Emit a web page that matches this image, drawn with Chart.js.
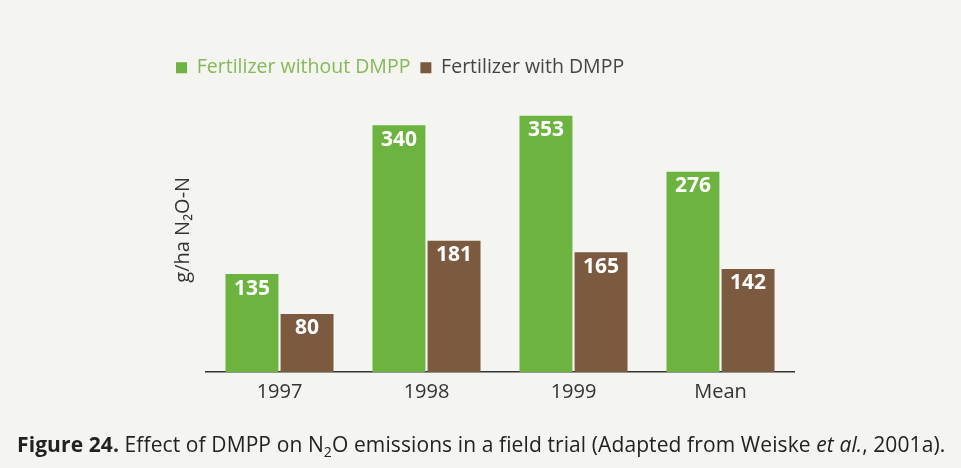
<!DOCTYPE html>
<html>
<head>
<meta charset="utf-8">
<script src="https://cdn.jsdelivr.net/npm/chart.js@4/dist/chart.umd.min.js"></script>
<style>
  html, body { margin: 0; padding: 0; background: #f4f4f1; }
  #wrap { position: relative; width: 961px; height: 468px; }
  #caption {
    position: absolute; left: 17px; top: 430px;
    font-family: "Open Sans", sans-serif; font-size: 21px; color: #222;
    white-space: nowrap; letter-spacing: 0.1px;
  }
  #caption sub { font-size: 14px; }
</style>
</head>
<body>
<div id="wrap">
  <canvas id="chart" width="961" height="468"></canvas>
  <div id="caption"><b>Figure 24.</b> Effect of DMPP on N<sub>2</sub>O emissions in a field trial (Adapted from Weiske <i>et al.</i>, 2001a).</div>
</div>
<script>
const categories = ['1997', '1998', '1999', 'Mean'];
const withoutDmpp = [135, 340, 353, 276];
const withDmpp = [80, 181, 165, 142];
const seriesNames = ['Fertilizer without DMPP', 'Fertilizer with DMPP'];

const green = '#6cb33f';
const brown = '#7b5a3f';

// white numbers inside the top of each bar
const barLabels = {
  id: 'barLabels',
  afterDatasetsDraw(chart) {
    const ctx = chart.ctx;
    ctx.save();
    ctx.fillStyle = '#ffffff';
    ctx.font = 'bold 21px "Open Sans", sans-serif';
    ctx.textAlign = 'center';
    ctx.textBaseline = 'top';
    chart.data.datasets.forEach((ds, i) => {
      chart.getDatasetMeta(i).data.forEach((bar, j) => {
        ctx.fillText(ds.data[j], bar.x, bar.y + 4);
      });
    });
    ctx.restore();
  }
};

new Chart(document.getElementById('chart'), {
  type: 'bar',
  data: {
    labels: categories,
    datasets: [
      { label: seriesNames[0], data: withoutDmpp, backgroundColor: green },
      { label: seriesNames[1], data: withDmpp, backgroundColor: brown }
    ]
  },
  options: {
    responsive: false,
    animation: false,
    categoryPercentage: 0.75,
    barPercentage: 0.96,
    layout: { padding: { left: 166, right: 167, top: 48, bottom: 56 } },
    plugins: {
      tooltip: { enabled: false },
      legend: {
        align: 'start',
        labels: {
          boxWidth: 11,
          boxHeight: 11,
          padding: 10,
          font: { family: '"Open Sans", sans-serif', size: 19.5 },
          generateLabels(chart) {
            const cols = ['#84b957', '#444444'];
            return chart.data.datasets.map((ds, i) => ({
              text: ds.label,
              fillStyle: ds.backgroundColor,
              strokeStyle: ds.backgroundColor,
              lineWidth: 0,
              fontColor: cols[i],
              datasetIndex: i
            }));
          }
        }
      }
    },
    scales: {
      x: {
        grid: { display: false, drawTicks: false },
        border: { color: '#333333', width: 1.5 },
        ticks: { color: '#333333', padding: 8, font: { family: '"Open Sans", sans-serif', size: 20 } }
      },
      y: {
        min: 0,
        max: 392,
        grid: { display: false, drawTicks: false },
        border: { display: false },
        ticks: { display: false },
        afterFit(scale) { scale.width = 40; },
        title: {
          display: true,
          text: 'g/ha N₂O-N',
          color: '#333333',
          padding: { top: 5, bottom: 0 },
          font: { family: '"Open Sans", sans-serif', size: 20 }
        }
      }
    }
  },
  plugins: [barLabels]
});
</script>
</body>
</html>
